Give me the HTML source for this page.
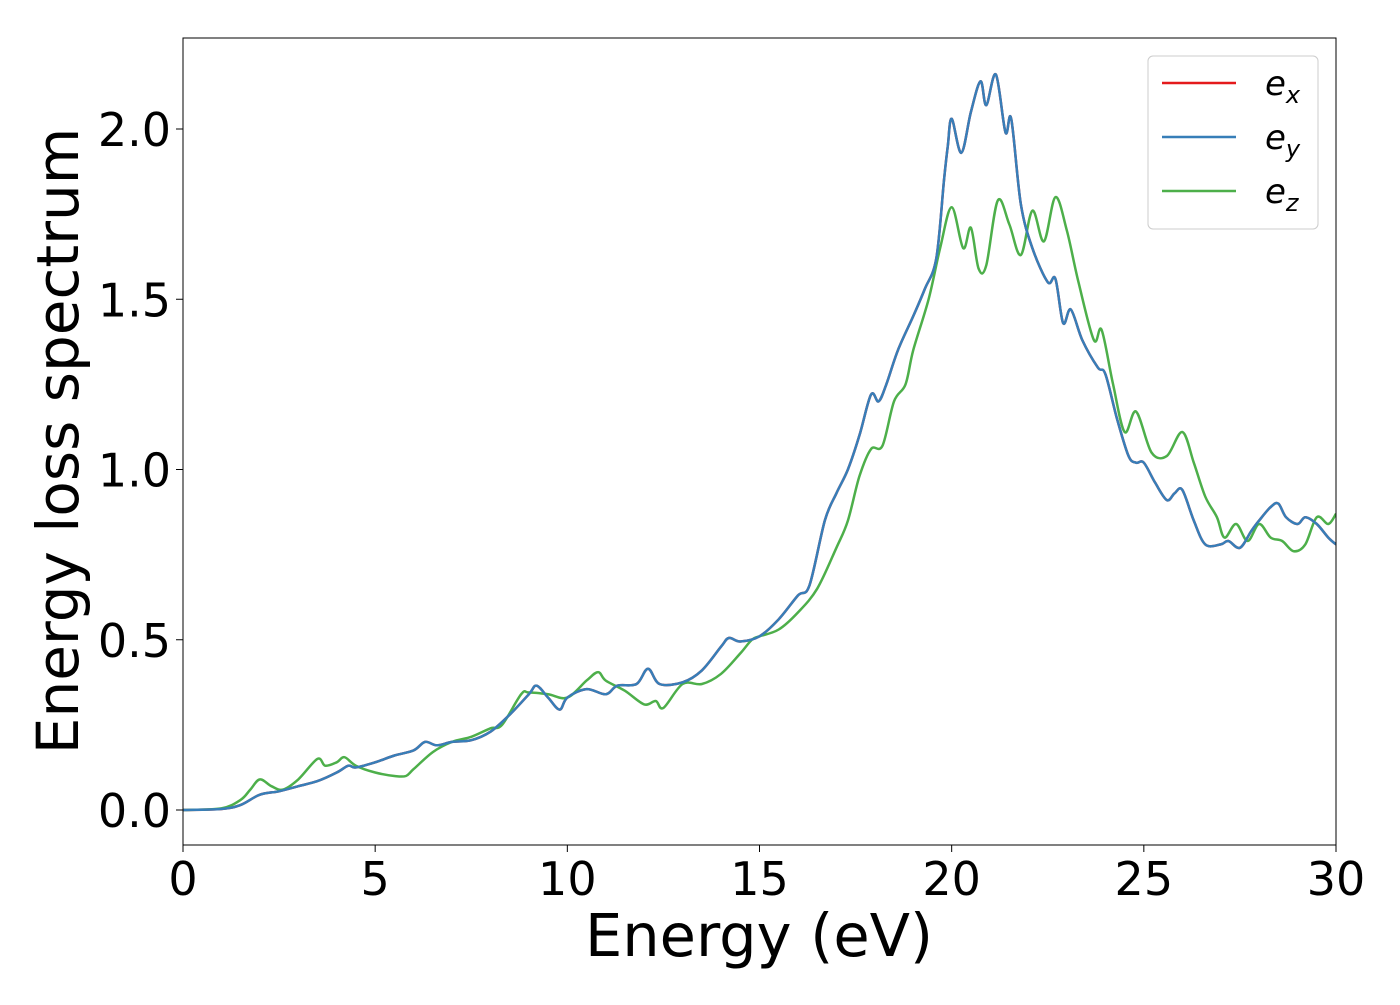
<!DOCTYPE html>
<html><head><meta charset="utf-8"><style>
body{margin:0;background:#fff;}
svg text{font-family:"DejaVu Sans","Liberation Sans",sans-serif;}
</style></head><body>
<svg id="chart" width="1400" height="1000" xmlns="http://www.w3.org/2000/svg">
<rect x="0" y="0" width="1400" height="1000" fill="#fff"/>
<g id="plot"></g>
</svg>
<script>
const xTicks=[0,5,10,15,20,25,30];
const yTicks=[0.0,0.5,1.0,1.5,2.0];
const yTickLabels=["0.0","0.5","1.0","1.5","2.0"];
const blueX=[0,1,1.5,2,2.5,3,3.5,4,4.3,4.5,5,5.5,6,6.3,6.6,7,7.5,8,8.5,9,9.2,9.5,9.8,10,10.5,11,11.3,11.8,12.1,12.4,13,13.5,14,14.2,14.5,15,15.5,16,16.3,16.7,17,17.3,17.6,17.9,18.1,18.3,18.6,19,19.3,19.6,19.8,19.9,20,20.25,20.5,20.75,20.9,21.15,21.4,21.55,21.8,22.1,22.5,22.7,22.9,23.1,23.4,23.8,24,24.3,24.6,24.8,25,25.3,25.6,25.8,26,26.3,26.6,27,27.2,27.5,27.8,28,28.3,28.5,28.7,29,29.2,29.5,29.8,30];
const blueY=[0,0.003,0.015,0.045,0.055,0.07,0.085,0.11,0.13,0.125,0.14,0.16,0.175,0.2,0.19,0.2,0.205,0.23,0.28,0.34,0.365,0.33,0.295,0.33,0.355,0.34,0.365,0.37,0.415,0.37,0.375,0.41,0.48,0.505,0.495,0.51,0.56,0.63,0.66,0.85,0.93,1.0,1.1,1.22,1.2,1.25,1.35,1.45,1.53,1.62,1.85,1.95,2.03,1.93,2.05,2.14,2.07,2.16,1.99,2.03,1.78,1.65,1.55,1.56,1.43,1.47,1.38,1.3,1.28,1.15,1.04,1.02,1.02,0.96,0.91,0.93,0.94,0.85,0.78,0.78,0.79,0.77,0.82,0.85,0.89,0.9,0.86,0.84,0.86,0.84,0.8,0.78];
const greenX=[0,1,1.5,1.75,2,2.3,2.6,3,3.5,3.7,4,4.2,4.5,5,5.5,5.8,6,6.5,7,7.5,8,8.3,8.8,9,9.5,10,10.5,10.8,11,11.5,12,12.3,12.5,13,13.5,14,14.5,14.8,15,15.5,16,16.5,17,17.3,17.6,17.9,18.2,18.5,18.8,19,19.4,19.7,20,20.3,20.5,20.7,20.9,21.2,21.5,21.8,22.1,22.4,22.7,23,23.3,23.7,23.9,24.2,24.5,24.8,25.2,25.6,26,26.3,26.6,26.9,27.1,27.4,27.7,28,28.3,28.6,28.9,29.2,29.5,29.8,30];
const greenY=[0,0.005,0.03,0.06,0.09,0.07,0.06,0.09,0.15,0.13,0.14,0.155,0.13,0.11,0.1,0.1,0.12,0.17,0.2,0.215,0.24,0.25,0.34,0.345,0.34,0.33,0.38,0.405,0.38,0.35,0.31,0.32,0.3,0.37,0.37,0.4,0.46,0.5,0.51,0.53,0.58,0.65,0.77,0.85,0.98,1.06,1.07,1.2,1.25,1.35,1.5,1.65,1.77,1.65,1.71,1.59,1.6,1.79,1.72,1.63,1.76,1.67,1.8,1.7,1.55,1.38,1.41,1.25,1.11,1.17,1.05,1.04,1.11,1.02,0.92,0.86,0.8,0.84,0.79,0.84,0.8,0.79,0.76,0.78,0.86,0.84,0.87];

const L=183,R=1336,T=38,B=845;
const X=v=>L+(v-0)/30*(R-L);
const Y=v=>810-v*340.5;
const NS="http://www.w3.org/2000/svg";
const g=document.getElementById('plot');
function mk(tag,attrs,parent){const e=document.createElementNS(NS,tag);for(const k in attrs)e.setAttribute(k,attrs[k]);(parent||g).appendChild(e);return e;}
function pathD(xs,ys){
  const p=xs.map((x,i)=>[X(x),Y(ys[i])]);
  let d="M"+p[0][0].toFixed(1)+","+p[0][1].toFixed(1);
  for(let i=0;i<p.length-1;i++){
    const p0=p[i-1]||p[i],p1=p[i],p2=p[i+1],p3=p[i+2]||p2;
    const c1=[p1[0]+(p2[0]-p0[0])/6,p1[1]+(p2[1]-p0[1])/6];
    const c2=[p2[0]-(p3[0]-p1[0])/6,p2[1]-(p3[1]-p1[1])/6];
    d+=" C"+c1.map(v=>v.toFixed(1))+" "+c2.map(v=>v.toFixed(1))+" "+p2[0].toFixed(1)+","+p2[1].toFixed(1);
  }
  return d;
}
const clip=mk('clipPath',{id:'clp'});mk('rect',{x:L,y:T,width:R-L,height:B-T},clip);
let e;
e=mk('path',{d:pathD(blueX,blueY),fill:'none',stroke:'#e41a1c','stroke-width':2.5,'clip-path':'url(#clp)'});

e=mk('path',{d:pathD(greenX,greenY),fill:'none',stroke:'#4daf4a','stroke-width':2.5,'clip-path':'url(#clp)'});

e=mk('path',{d:pathD(blueX,blueY),fill:'none',stroke:'#377eb8','stroke-width':2.5,'clip-path':'url(#clp)'});

e=mk('rect',{x:L,y:T,width:R-L,height:B-T,fill:'none',stroke:'#000','stroke-width':1});

xTicks.forEach(v=>{
  let t=mk('line',{x1:X(v),x2:X(v),y1:B,y2:B+7,stroke:'#000','stroke-width':1});
  
  t=mk('text',{x:X(v),y:B+50,'font-size':46,'text-anchor':'middle'});t.textContent=v;
  
});
yTicks.forEach((v,i)=>{
  let t=mk('line',{x1:L-7,x2:L,y1:Y(v),y2:Y(v),stroke:'#000','stroke-width':1});
  
  t=mk('text',{x:L-12,y:Y(v)+17,'font-size':46,'text-anchor':'end'});t.textContent=yTickLabels[i];
  
});
e=mk('text',{x:759,y:956,'font-size':59,'text-anchor':'middle'});e.textContent='Energy (eV)';

e=mk('text',{x:0,y:0,'font-size':58,'text-anchor':'middle',transform:'translate(78,441) rotate(-90)'});e.textContent='Energy loss spectrum';

const lg=mk('g',{});
mk('rect',{x:1148,y:56,width:170,height:173,rx:5,fill:'#fff',stroke:'#ccc','stroke-width':1},lg);
const legNames=['x','y','z'],legCols=['#e41a1c','#377eb8','#4daf4a'];
legNames.forEach((n,i)=>{
  const yy=83+i*54;
  let l=mk('line',{x1:1162,x2:1236,y1:yy,y2:yy,stroke:legCols[i],'stroke-width':2.5},lg);
  
  let t=mk('text',{x:1265,y:yy+12,'font-size':34,'font-style':'italic'},lg);
  t.innerHTML='e<tspan font-size="24" dy="8">'+n+'</tspan>';
  
});
</script>
</body></html>
